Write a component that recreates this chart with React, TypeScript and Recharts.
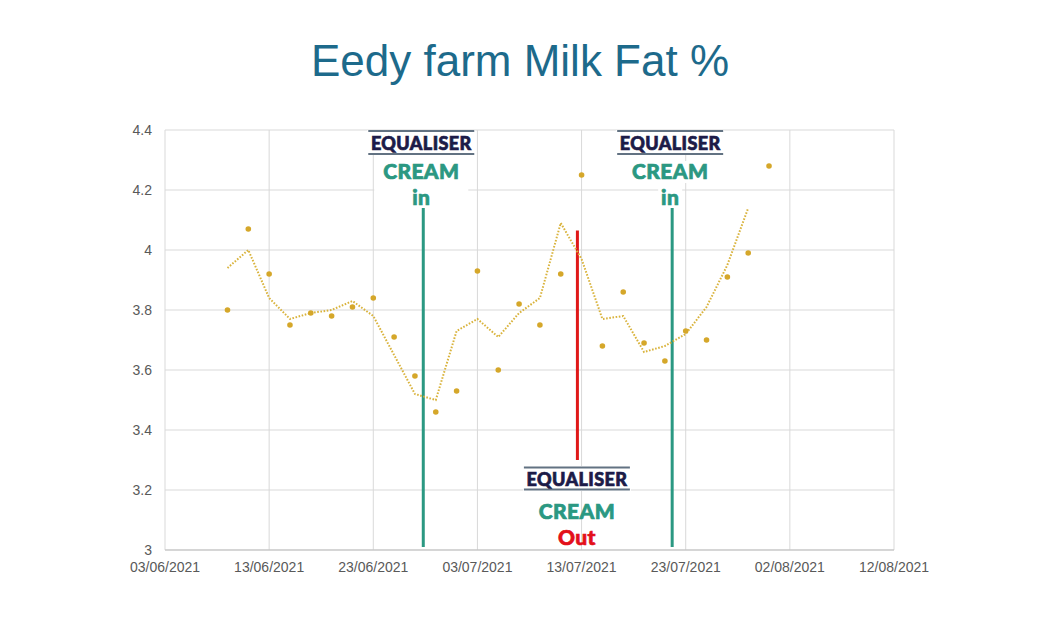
import React from 'react';
import {
  ComposedChart,
  Scatter,
  XAxis,
  YAxis,
  CartesianGrid,
  ReferenceLine,
  ReferenceDot,
} from 'recharts';

// sample dates (every second day) and fat % readings
const sampleDates = [
  '09/06/2021', '11/06/2021', '13/06/2021', '15/06/2021', '17/06/2021', '19/06/2021',
  '21/06/2021', '23/06/2021', '25/06/2021', '27/06/2021', '29/06/2021', '01/07/2021',
  '03/07/2021', '05/07/2021', '07/07/2021', '09/07/2021', '11/07/2021', '13/07/2021',
  '15/07/2021', '17/07/2021', '19/07/2021', '21/07/2021', '23/07/2021', '25/07/2021',
  '27/07/2021', '29/07/2021', '31/07/2021',
];
const fatValues = [
  3.80, 4.07, 3.92, 3.75, 3.79, 3.78, 3.81, 3.84, 3.71, 3.58, 3.46, 3.53, 3.93, 3.60,
  3.82, 3.75, 3.92, 4.25, 3.68, 3.86, 3.69, 3.63, 3.73, 3.70, 3.91, 3.99, 4.28,
];
// dotted trend line (2 point moving average as drawn)
const trendValues = [
  3.94, 4.0, 3.84, 3.77, 3.79, 3.8, 3.83, 3.78, 3.65, 3.52, 3.5, 3.73, 3.77, 3.71,
  3.79, 3.84, 4.09, 3.97, 3.77, 3.78, 3.66, 3.68, 3.72, 3.81, 3.95, 4.14,
];

const xTickLabels = [
  '03/06/2021', '13/06/2021', '23/06/2021', '03/07/2021',
  '13/07/2021', '23/07/2021', '02/08/2021', '12/08/2021',
];
const yTicks = [3, 3.2, 3.4, 3.6, 3.8, 4, 4.2, 4.4];

// equaliser markers: day offset, value range, colour
const markers = [
  { day: 24.8, from: 3.01, to: 4.14, color: '#2b9882' },
  { day: 39.6, from: 3.3, to: 4.065, color: '#e01818' },
  { day: 48.7, from: 3.01, to: 4.14, color: '#2b9882' },
];

const toDay = (s: string) => {
  const [d, m, y] = s.split('/').map(Number);
  return (Date.UTC(y, m - 1, d) - Date.UTC(2021, 5, 3)) / 86400000;
};

const points = sampleDates.map((d, i) => ({ day: toDay(d), value: fatValues[i] }));
const trend = trendValues.map((v, i) => ({ day: toDay(sampleDates[i]), value: v }));
const xTicks = xTickLabels.map(toDay);

const GOLD = '#d5a72a';
const TEAL = '#2b9882';
const NAVY = '#1c1b48';
const RULE = '#627282';
const LOGO_FONT = 'Lato, "Open Sans", sans-serif';

const Logo = ({ x, y, size, color, children }: any) => (
  <text
    x={x}
    y={y}
    textAnchor="middle"
    fontFamily={LOGO_FONT}
    fontWeight={900}
    fontSize={size}
    fill={color}
    stroke={color}
    strokeWidth={0.7}
    letterSpacing={0.4}
  >
    {children}
  </text>
);

const TopLabel = ({ cx, cy, boxWidth }: any) => {
  const x = cx - 2;
  return (
    <g>
      <rect x={x - 54} y={cy} width={108} height={25} fill="#fff" />
      <rect x={x - Math.max(boxWidth, 80) / 2} y={cy + 31} width={Math.max(boxWidth, 80)} height={22} fill="#fff" />
      <rect x={x - boxWidth / 2} y={cy + 57} width={boxWidth} height={20} fill="#fff" />
      <line x1={x - 53} x2={x + 53} y1={cy + 1} y2={cy + 1} stroke={RULE} strokeWidth={2} />
      <line x1={x - 53} x2={x + 53} y1={cy + 24} y2={cy + 24} stroke={RULE} strokeWidth={2} />
      <Logo x={x} y={cy + 19.5} size={18} color={NAVY}>EQUALISER</Logo>
      <Logo x={x} y={cy + 49} size={21} color={TEAL}>CREAM</Logo>
      <Logo x={x} y={cy + 75} size={21} color={TEAL}>in</Logo>
    </g>
  );
};

const BottomLabel = ({ cx, cy }: any) => {
  const x = cx - 0.5;
  return (
    <g>
      <rect x={x - 54} y={cy + 6} width={108} height={25} fill="#fff" />
      <line x1={x - 53} x2={x + 53} y1={cy + 7.5} y2={cy + 7.5} stroke={RULE} strokeWidth={2} />
      <line x1={x - 53} x2={x + 53} y1={cy + 29.5} y2={cy + 29.5} stroke={RULE} strokeWidth={2} />
      <Logo x={x} y={cy + 25.5} size={18} color={NAVY}>EQUALISER</Logo>
      <Logo x={x} y={cy + 58.5} size={21} color={TEAL}>CREAM</Logo>
      <Logo x={x} y={cy + 85} size={21} color="#e3101a">Out</Logo>
    </g>
  );
};

const Dot = ({ cx, cy }: any) => <circle cx={cx} cy={cy} r={2.8} fill={GOLD} />;
const NoShape = () => <g />;

const tickStyle = { fill: '#595959', fontSize: 14, fontFamily: '"Liberation Sans", Arial, sans-serif' };

export default function App() {
  return (
    <div style={{ position: 'absolute', left: 0, top: 0, width: 1054, height: 625, background: '#fff' }}>
      <div
        style={{
          position: 'absolute',
          left: 0,
          top: 39,
          width: 1040,
          textAlign: 'center',
          fontFamily: '"Liberation Sans", Arial, sans-serif',
          fontSize: 44,
          lineHeight: '44px',
          color: '#1d6a8b',
        }}
      >
        Eedy farm Milk Fat %
      </div>
      <div style={{ position: 'absolute', left: 0, top: 0 }}>
        <ComposedChart width={1054} height={625} margin={{ top: 130, right: 160, bottom: 45, left: 105 }}>
          <CartesianGrid stroke="#d9d9d9" strokeWidth={1} />
          <XAxis
            type="number"
            dataKey="day"
            domain={[0, 70]}
            ticks={xTicks}
            tickFormatter={(v: number) => xTickLabels[xTicks.indexOf(v)] ?? ''}
            height={30}
            tickLine={false}
            axisLine={{ stroke: '#bfbfbf' }}
            tickMargin={6}
            tick={tickStyle}
            interval={0}
            allowDataOverflow
          />
          <YAxis
            type="number"
            dataKey="value"
            domain={[3, 4.4]}
            ticks={yTicks}
            width={60}
            tickLine={false}
            axisLine={false}
            tickMargin={7}
            tick={tickStyle}
            interval={0}
            allowDataOverflow
          />
          <Scatter
            data={trend}
            shape={NoShape}
            line={{ stroke: '#d9b33c', strokeWidth: 2, strokeDasharray: '1.6 1.6' }}
            isAnimationActive={false}
          />
          <Scatter data={points} shape={Dot} isAnimationActive={false} />
          {markers.map((m) => (
            <ReferenceLine
              key={m.day}
              segment={[
                { x: m.day, y: m.from },
                { x: m.day, y: m.to },
              ]}
              stroke={m.color}
              strokeWidth={3}
            />
          ))}
          <ReferenceDot x={markers[0].day} y={4.4} r={0} shape={(p: any) => <TopLabel {...p} boxWidth={94} />} />
          <ReferenceDot x={markers[2].day} y={4.4} r={0} shape={(p: any) => <TopLabel {...p} boxWidth={24} />} />
          <ReferenceDot x={markers[1].day} y={markers[1].from} r={0} shape={(p: any) => <BottomLabel {...p} />} />
        </ComposedChart>
      </div>
    </div>
  );
}
